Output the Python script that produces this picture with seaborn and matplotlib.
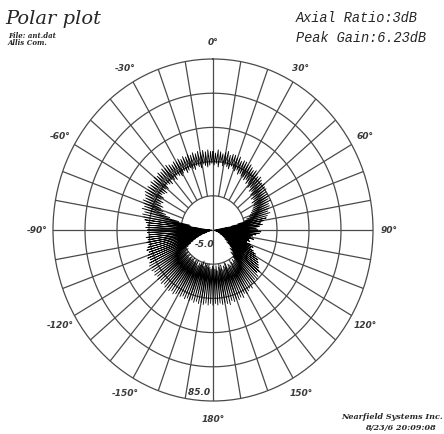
import numpy as np
import pandas as pd
import seaborn as sns
import matplotlib.pyplot as plt

# measured pattern, one sample per degree (compass angle, clockwise from top),
# radius given as percent of the outer ring
angle_deg = list(range(0, 360))
gain_pct = [
    46, 38, 45, 39, 47, 37, 46, 40, 45, 38,
    46, 39, 47, 38, 45, 37, 46, 39, 46, 38,
    45, 37, 46, 38, 44, 36, 45, 37, 45, 36,
    44, 36, 45, 35, 44, 36, 43, 34, 44, 35,
    43, 33, 42, 34, 43, 32, 42, 33, 41, 31,
    42, 32, 41, 30, 41, 31, 40, 29, 40, 30,
    40, 29, 39, 28, 40, 27, 38, 26, 38, 25,
    37, 24, 36, 22, 37, 20, 35, 16, 34, 12,
    32, 6, 30, 3, 31, 2, 29, 4, 27, 2,
    28, 1, 30, 3, 29, 2, 27, 1, 25, 3,
    24, 2, 26, 3, 23, 1, 24, 4, 22, 2,
    25, 5, 27, 4, 26, 6, 28, 5, 30, 7,
    31, 8, 33, 10, 34, 9, 35, 12, 36, 11,
    38, 14, 37, 16, 39, 15, 40, 18, 39, 17,
    41, 20, 40, 22, 42, 21, 41, 23, 42, 22,
    43, 24, 42, 23, 44, 22, 43, 24, 44, 21,
    43, 23, 44, 22, 43, 24, 45, 21, 44, 23,
    43, 22, 44, 24, 43, 21, 44, 23, 43, 22,
    44, 21, 43, 23, 44, 22, 43, 20, 44, 22,
    43, 21, 44, 20, 43, 22, 44, 19, 43, 21,
    44, 22, 43, 21, 44, 23, 43, 20, 44, 22,
    43, 21, 44, 22, 45, 20, 44, 21, 45, 22,
    44, 21, 45, 22, 44, 20, 45, 21, 44, 22,
    45, 20, 44, 21, 45, 19, 44, 20, 45, 18,
    44, 16, 45, 14, 44, 12, 43, 10, 44, 8,
    43, 5, 42, 4, 43, 2, 42, 3, 41, 1,
    42, 2, 41, 1, 42, 3, 40, 1, 41, 2,
    41, 2, 42, 3, 41, 5, 42, 9, 43, 14,
    44, 15, 45, 22, 44, 28, 46, 31, 45, 33,
    46, 35, 47, 34, 46, 36, 47, 35, 48, 37,
    47, 36, 48, 38, 47, 37, 48, 36, 47, 38,
    48, 37, 47, 39, 48, 38, 47, 37, 48, 39,
    47, 38, 48, 37, 47, 39, 46, 38, 47, 37,
    46, 38, 47, 39, 46, 37, 47, 38, 46, 39,
    47, 38, 46, 37, 47, 39, 46, 38, 47, 37,
    46, 39, 47, 38, 46, 37, 47, 38, 46, 39,
]

r_center = -5.0
r_outer = 85.0
ring_levels = [13, 31, 49, 67, 85]
theta_labels = [0, 30, 60, 90, 120, 150, 180, -30, -60, -90, -120, -150]

grid_col = "#4a4a4a"

df = pd.DataFrame({"angle": angle_deg + angle_deg[:1], "pct": gain_pct + gain_pct[:1]})
df["theta"] = np.deg2rad(df["angle"])
df["level"] = r_center + (r_outer - r_center) * df["pct"] / 100.0

sns.set_style("white")
fig = plt.figure(figsize=(4.44, 4.35), dpi=100)
ax = fig.add_axes([53 / 444, 33 / 435, 320 / 444, 342 / 435], projection="polar")
ax.set_aspect("auto")
ax.set_theta_zero_location("N")
ax.set_theta_direction(-1)
ax.set_ylim(r_center, r_outer)
ax.grid(False)
ax.set_xticks([])
ax.set_yticks([])
ax.spines["polar"].set_color(grid_col)
ax.spines["polar"].set_linewidth(0.9)

# rings
circ = np.linspace(0, 2 * np.pi, 361)
for lv in ring_levels[:-1]:
    ax.plot(circ, np.full_like(circ, lv), color=grid_col, lw=0.9, zorder=1)

# spokes every 10 degrees, crosshair through the centre
for a in range(0, 360, 10):
    start = r_center if a % 90 == 0 else ring_levels[0]
    ax.plot([np.deg2rad(a)] * 2, [start, r_outer], color=grid_col, lw=0.9, zorder=1)

# angle labels
for a in theta_labels:
    ax.text(np.deg2rad(a), r_center + (r_outer - r_center) * 1.1, f"{a}\u00b0",
            ha="center", va="center", fontsize=6.5, style="italic", fontweight="bold",
            color="#3a3a3a", clip_on=False)

# radial labels
ax.text(np.pi, r_center + (r_outer - r_center) * 0.945, "85.0 ", ha="right", va="center",
        fontsize=6.5, style="italic", fontweight="bold", color="#333333")
ax.text(np.deg2rad(172), r_center + 7, "-5.0", ha="right", va="center",
        fontsize=6.5, style="italic", fontweight="bold", color="#333333", zorder=1)

sns.lineplot(data=df, x="theta", y="level", sort=False, estimator=None,
             color="black", lw=0.6, ax=ax, zorder=3)
ax.set_xlabel("")
ax.set_ylabel("")

fig.text(5 / 444, 1 - 19 / 435, "Polar plot", fontsize=14, style="italic",
         family="DejaVu Serif", va="center", ha="left")
fig.text(8 / 444, 1 - 36 / 435, "File: ant.dat", fontsize=5, style="italic",
         fontweight="bold", family="DejaVu Serif", va="center")
fig.text(8 / 444, 1 - 43 / 435, "Allis Com.", fontsize=5, style="italic",
         fontweight="bold", family="DejaVu Serif", va="center")
fig.text(296 / 444, 1 - 18 / 435, "Axial Ratio:3dB", fontsize=9.8, style="italic",
         family="Liberation Mono", va="center")
fig.text(296 / 444, 1 - 38 / 435, "Peak Gain:6.23dB", fontsize=9.8, style="italic",
         family="Liberation Mono", va="center")
fig.text(443 / 444, 1 - 417 / 435, "Nearfield Systems Inc.", fontsize=5.8,
         style="italic", fontweight="bold", family="DejaVu Serif", ha="right", va="center")
fig.text(400 / 444, 1 - 428 / 435, "8/23/6 20:09:08", fontsize=5.8,
         style="italic", fontweight="bold", family="DejaVu Serif", ha="center", va="center")

fig.savefig("out.png", dpi=100)
